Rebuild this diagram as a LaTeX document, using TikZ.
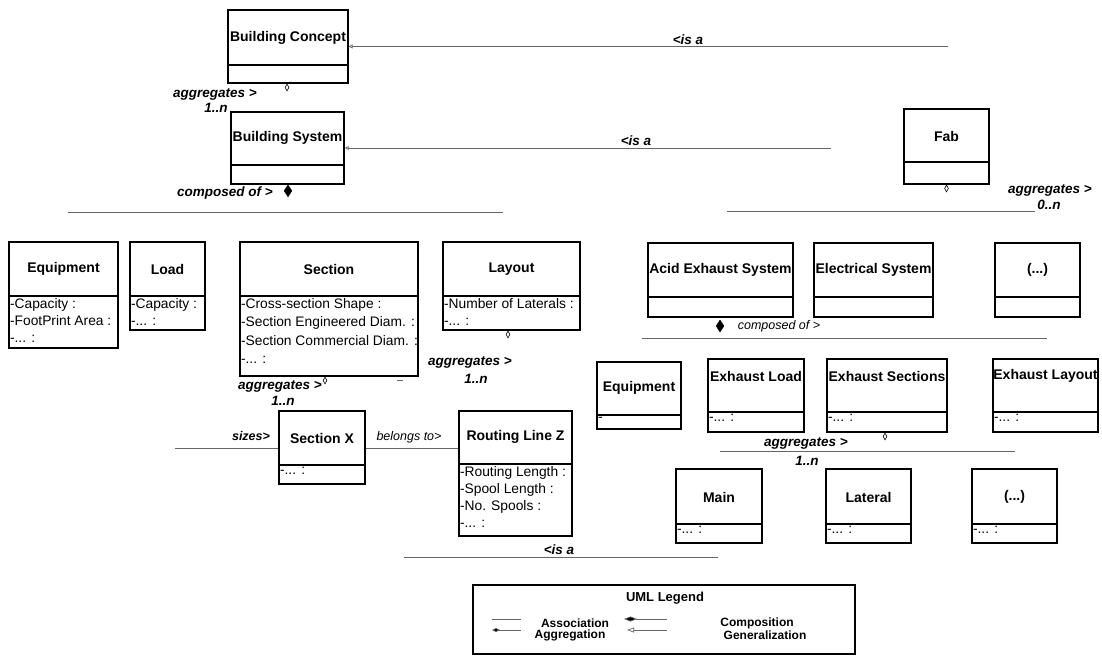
\documentclass[tikz,border=0pt]{standalone}
\usepackage{fontspec}
\setmainfont{Liberation Sans}
\usetikzlibrary{fit,arrows.meta,shapes.geometric}

\tikzset{
  classbox/.style={draw=black, line width=1.3pt, inner sep=0pt},
  divider/.style={draw=black, line width=1.2pt},
  classtitle/.style={font=\fontsize{14}{16}\selectfont\bfseries, inner sep=0pt},
  attrs/.style={font=\fontsize{13.8}{17}\selectfont, align=left, inner sep=0pt, anchor=north west},
  rel/.style={draw=black!60, line width=0.7pt},
  rellabel/.style={font=\fontsize{13.5}{16}\selectfont\bfseries\itshape, inner sep=0pt},
  aggmark/.style={diamond, draw=black, line width=0.6pt, fill=white, inner sep=0pt, minimum width=4pt, minimum height=7pt, anchor=north},
  compmark/.style={diamond, draw=black, fill=black, inner sep=0pt, minimum width=8pt, minimum height=12pt},
  genhead/.style={{Triangle[open,length=4pt,width=4pt]}-},
  legendtext/.style={font=\fontsize{12}{15}\selectfont\bfseries, inner sep=0pt},
}

% name, x1, y1, x2, y2, ydiv, title y, title
\newcommand\umlclass[8]{%
  \coordinate (#1-nw) at (#2,#3);
  \coordinate (#1-se) at (#4,#5);
  \node[classbox, fit=(#1-nw)(#1-se)] (#1) {};
  \coordinate (#1-d) at (#2,#6);
  \draw[divider] (#1-d -| #1.west) -- (#1-d -| #1.east);
  \node[classtitle] (#1-title) at ({(#2+#4)/2},#7) {#8};
}
% name, attributes
\newcommand\umlattrs[2]{%
  \node[attrs] (#1-attrs) at ([xshift=1.5pt,yshift=-2pt]#1-d -| #1.west) {#2};
}

\begin{document}
\begin{tikzpicture}[x=1pt,y=-1pt]
\useasboundingbox[fill=white] (0,0) rectangle (1102,656);

% ---------- classes ----------
\umlclass{bc}{228}{10}{348}{83}{65}{38}{Building Concept}
\umlclass{bs}{231}{112}{344}{184}{165}{138}{Building System}
\umlclass{fab}{904}{109}{989}{184}{162}{136}{Fab}

\umlclass{equipL}{9}{242}{118}{348}{296}{269}{Equipment}
\umlattrs{equipL}{-Capacity :\\-FootPrint Area :\\-... :}
\umlclass{load}{130}{242}{205}{330}{296}{269}{Load}
\umlattrs{load}{-Capacity :\\-... :}
\umlclass{section}{240}{242}{418}{376}{296}{269}{Section}
\node[attrs, font=\fontsize{13.8}{18.5}\selectfont] (section-attrs) at ([xshift=1.5pt,yshift=-2pt]section-d -| section.west) {-Cross-section Shape :\\-Section Engineered Diam. :\\-Section Commercial Diam. :\\-... :};
\umlclass{layout}{443}{242}{580}{330}{296}{269}{Layout}
\umlattrs{layout}{-Number of Laterals :\\-... :}

\umlclass{acid}{648}{243}{793}{317}{297}{270}{Acid Exhaust System}
\umlclass{elec}{814}{243}{933}{317}{297}{270}{Electrical System}
\umlclass{dotsA}{995}{243}{1080}{317}{297}{270}{(...)}

\umlclass{equipR}{597}{362}{681}{429}{415}{388}{Equipment}
\umlattrs{equipR}{-}
\umlclass{exload}{708}{359}{804}{432}{412}{376}{Exhaust Load}
\umlattrs{exload}{-... :}
\umlclass{exsec}{827}{359}{947}{432}{412}{376}{Exhaust Sections}
\umlattrs{exsec}{-... :}
\umlclass{exlay}{993}{359}{1098}{432}{412}{376}{Exhaust Layout}
\umlattrs{exlay}{-... :}

\umlclass{main}{676}{469}{762}{543}{524}{497}{Main}
\umlattrs{main}{-... :}
\umlclass{lateral}{826}{469}{911}{543}{524}{497}{Lateral}
\umlattrs{lateral}{-... :}
\umlclass{dotsB}{972}{469}{1057}{543}{524}{497}{(...)}
\umlattrs{dotsB}{-... :}

\umlclass{secx}{279}{411}{365}{484}{465}{438}{Section X}
\umlattrs{secx}{-... :}
\umlclass{routing}{459}{411}{572}{536}{464}{437}{Routing Line Z}
\umlattrs{routing}{-Routing Length :\\-Spool Length :\\-No. Spools :\\-... :}

% ---------- relations, top ----------
\coordinate (genA) at (948,46.5);
\draw[rel, genhead] (genA -| bc.east) -- (genA);
\node[rellabel, anchor=south] (isaA) at (688,45) {<is a};

\coordinate (genB) at (831,148);
\draw[rel, genhead] (genB -| bs.east) -- (genB);
\node[rellabel, anchor=south] (isaB) at (636,146) {<is a};

\node[aggmark] (bcagg) at (bc.south -| 287,0) {};
\node[rellabel] (bcaggl) at (215,94) {aggregates >};
\node[rellabel] (bcmult) at (216,108) {1..n};

\node[compmark, anchor=north] (bscomp) at (bs.south -| 288,0) {};
\node[rellabel] (bscompl) at (225,193) {composed of >};
\coordinate (busAw) at (68,212);
\coordinate (busAe) at (503,212);
\draw[rel] (busAw) -- (busAe);

\node[aggmark] (fabagg) at (fab.south) {};
\node[rellabel] (fabaggl) at (1050,190) {aggregates >};
\node[rellabel] (fabmult) at (1049,205) {0..n};
\coordinate (busBw) at (727,211);
\coordinate (busBe) at (1035,211);
\draw[rel] (busBw) -- (busBe);

% ---------- relations, left middle ----------
\node[aggmark] (secagg) at (section.south -| 325,0) {};
\node[rellabel] (secaggl) at (280,386) {aggregates >};
\node[rellabel] (secmult) at (283,401) {1..n};
\coordinate (tickA) at (397,380);
\coordinate (tickB) at (403,380);
\draw[rel] (tickA) -- (tickB);

\node[aggmark] (layagg) at (layout.south -| 508,0) {};
\node[rellabel] (layaggl) at (470,362) {aggregates >};
\node[rellabel] (laymult) at (476,379) {1..n};

\coordinate (sizesW) at (175,448);
\draw[rel] (sizesW) -- (sizesW -| secx.west);
\node[rellabel, font=\fontsize{12.5}{15}\selectfont\bfseries\itshape] (sizesl) at (251,436) {sizes>};
\draw[rel] (sizesW -| secx.east) -- (sizesW -| routing.west);
\node[rellabel, font=\fontsize{12.5}{15}\selectfont\itshape] (belongsl) at (409,437) {belongs to>};

\coordinate (genCw) at (404,557);
\coordinate (genCe) at (718,557);
\draw[rel] (genCw) -- (genCe);
\node[rellabel, anchor=south] (isaC) at (559,555) {<is a};

% ---------- relations, right ----------
\node[compmark] (acidcomp) at (720,326) {};
\node[rellabel, font=\fontsize{12.5}{15}\selectfont\itshape] (acidcompl) at (779,326) {composed of >};
\coordinate (busCw) at (642,338);
\coordinate (busCe) at (1047,338);
\draw[rel] (busCw) -- (busCe);

\node[aggmark] (exsecagg) at (exsec.south -| 885,0) {};
\node[rellabel] (exaggl) at (806,443) {aggregates >};
\node[rellabel] (exmult) at (807,461) {1..n};
\coordinate (busDw) at (720,451);
\coordinate (busDe) at (1015,451);
\draw[rel] (busDw) -- (busDe);

% ---------- legend ----------
\coordinate (lg-nw) at (473,585);
\coordinate (lg-se) at (855,654);
\node[classbox, line width=1.1pt, fit=(lg-nw)(lg-se)] (legend) {};
\node[classtitle, font=\fontsize{13}{16}\selectfont\bfseries] (lgtitle) at (665,598) {UML Legend};

\coordinate (assocA) at (492,619);
\coordinate (assocB) at (521,619);
\draw[rel] (assocA) -- (assocB);
\node[legendtext] (assocT) at (575,623) {Association};

\coordinate (compA) at (624,619);
\coordinate (compB) at (667,619);
\draw[rel, {Diamond[length=13pt,width=5pt,fill=black]}-] (compA) -- (compB);
\node[legendtext] (compT) at (757,623) {Composition};

\coordinate (aggA) at (492,630);
\coordinate (aggB) at (521,630);
\draw[rel, {Diamond[length=8pt,width=4pt,fill=black]}-] (aggA) -- (aggB);
\node[legendtext] (aggT) at (570,635) {Aggregation};

\coordinate (genLA) at (627,630);
\coordinate (genLB) at (667,630);
\draw[rel, {Triangle[open,length=7pt,width=5pt]}-] (genLA) -- (genLB);
\node[legendtext] (genT) at (765,635) {Generalization};

\end{tikzpicture}
\end{document}
